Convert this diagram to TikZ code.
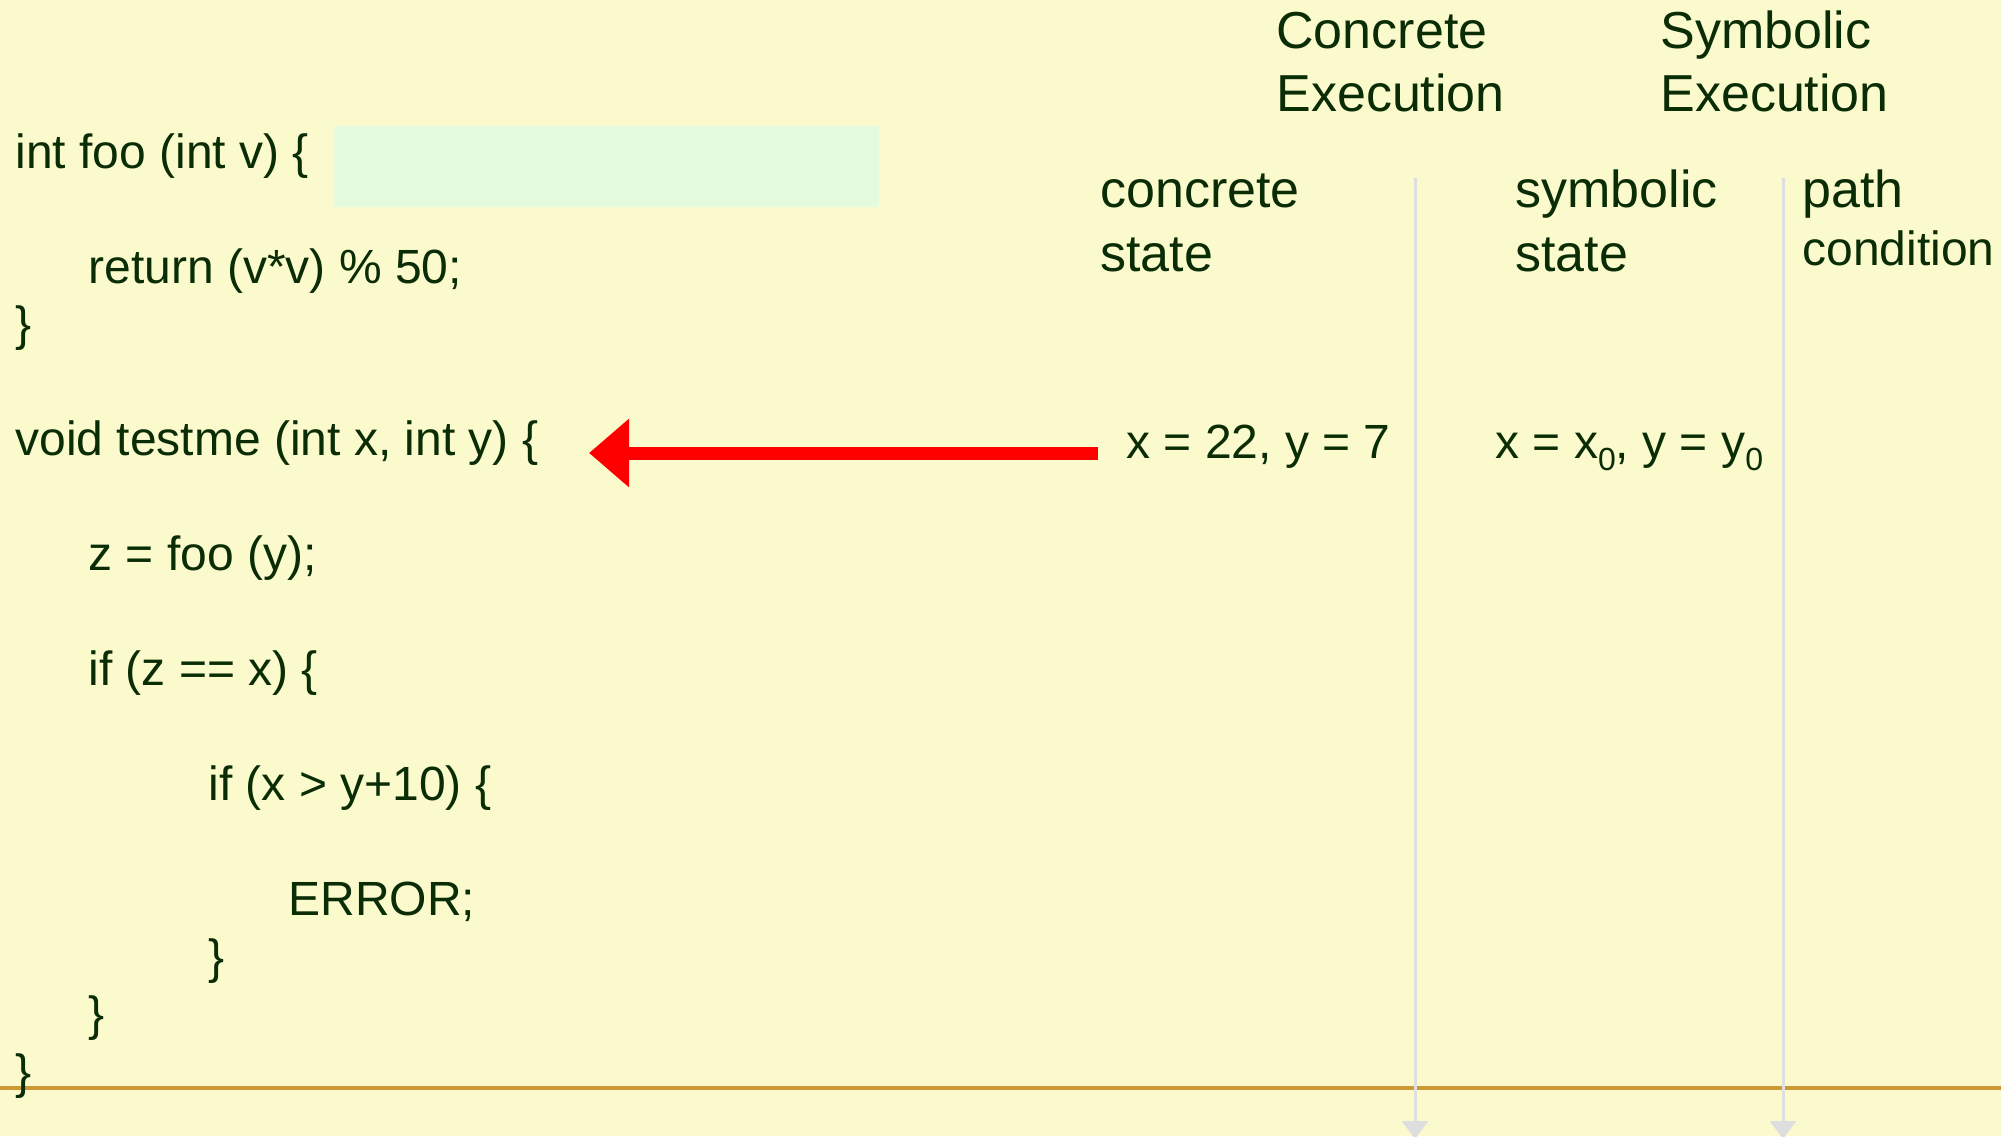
\documentclass[tikz,border=0pt]{standalone}
\usepackage{fontspec}
\setmainfont{Liberation Sans}
\usetikzlibrary{arrows.meta}
\definecolor{bg}{RGB}{251,250,205}
\definecolor{txt}{RGB}{10,45,5}
\definecolor{mint}{RGB}{228,251,224}
\definecolor{rulecol}{RGB}{204,153,51}
\definecolor{lane}{RGB}{222,222,222}
\definecolor{redarrow}{RGB}{255,0,0}
\newcommand{\subzero}{\raisebox{-6pt}{\fontsize{16}{18}\selectfont 0}}
\begin{document}
\begin{tikzpicture}[x=0.5pt,y=-0.5pt,
  code/.style={anchor=base west, inner sep=0pt, text=txt, font=\fontsize{24}{28}\selectfont},
  head/.style={anchor=base west, inner sep=0pt, text=txt, font=\fontsize{26}{30}\selectfont},
  lanearrow/.style={draw=lane, line width=1.5pt, -{Triangle[length=9pt,width=13pt]}, lane},
  bigarrow/.style={draw=redarrow, line width=6.5pt, -{Triangle[length=20pt,width=33pt]}, redarrow}]
\useasboundingbox (0,0) rectangle (2001,1136);
\clip (0,0) rectangle (2001,1136);
\fill[bg] (0,0) rectangle (2001,1136);
\fill[mint] (334,126) rectangle (879,207);
% code
\node[code] (c1) at (15,168) {int foo (int v) \{};
\node[code] (c2) at (88,283) {return (v*v) \% 50;};
\node[code] (c3) at (15,340.5) {\}};
\node[code] (c4) at (15,455.5) {void testme (int x, int y) \{};
\node[code] (c5) at (88,570.5) {z = foo (y);};
\node[code] (c6) at (88,685.5) {if (z == x) \{};
\node[code] (c7) at (208,800.5) {if (x > y+10) \{};
\node[code] (c8) at (288,915.5) {ERROR;};
\node[code] (c9) at (208,973) {\}};
\node[code] (c10) at (88,1030.5) {\}};
% bottom rule
\coordinate (rl) at (0,1088);
\coordinate (rr) at (2001,1088);
\draw[rulecol, line width=2pt] (rl) -- (rr);
\node[code] (c11) at (15,1088) {\}};
% headings
\node[head] (ce1) at (1276,48) {Concrete};
\node[head] (ce2) at (1276,111) {Execution};
\node[head] (se1) at (1660,48) {Symbolic};
\node[head] (se2) at (1660,111) {Execution};
\node[head] (cs1) at (1100,207) {concrete};
\node[head] (cs2) at (1100,271) {state};
\node[head] (ss1) at (1515,207) {symbolic};
\node[head] (ss2) at (1515,271) {state};
\node[head] (pc1) at (1802,207) {path};
\node[code] (pc2) at (1802,265) {condition};
% values
\node[code] (cv) at (1126,458) {x = 22, y = 7};
\node[code] (sv) at (1495,458) {x = x\subzero, y = y\subzero};
% lanes
\coordinate (l1t) at (1415,178);
\coordinate (l1b) at (1415,1139);
\coordinate (l2t) at (1783,178);
\coordinate (l2b) at (1783,1139);
\draw[lanearrow] (l1t) -- (l1b);
\draw[lanearrow] (l2t) -- (l2b);
% red arrow
\coordinate (at) at (1098,453);
\coordinate (ah) at (589,453);
\draw[bigarrow] (at) -- (ah);
\end{tikzpicture}
\end{document}
